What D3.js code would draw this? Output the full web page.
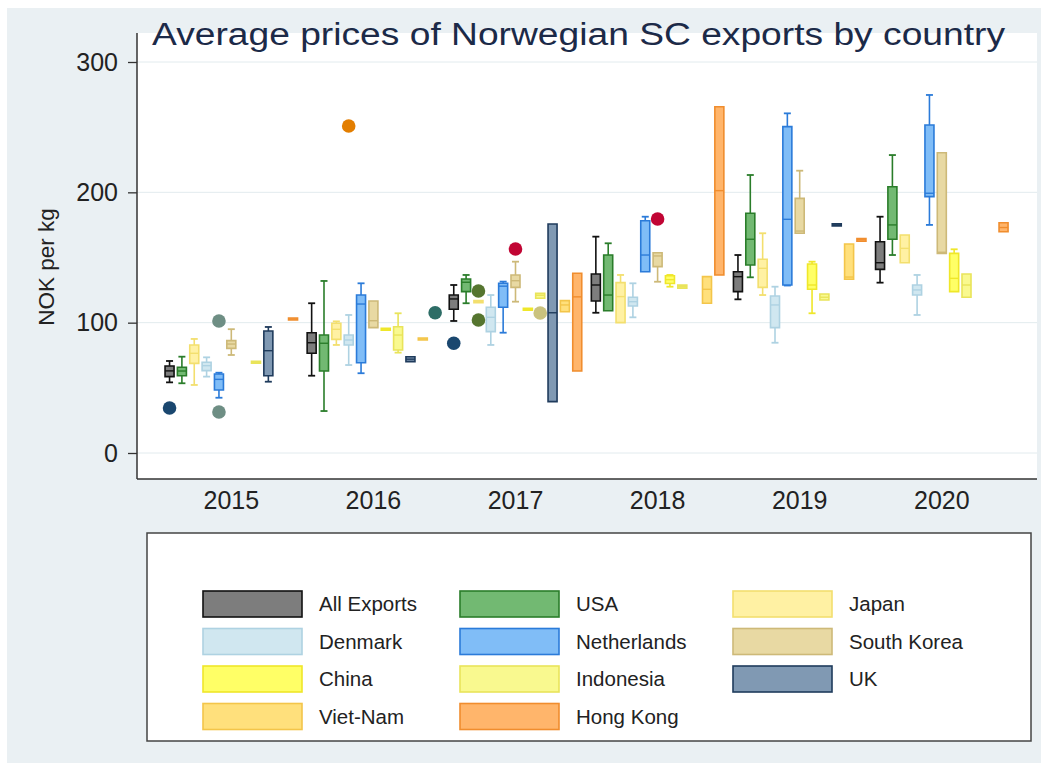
<!DOCTYPE html>
<meta charset="utf-8">
<style>
body { margin: 0; background: #fff; }
text { font-family: "Liberation Sans", Arial, sans-serif; fill: #222; }
.grid line { stroke: #e2ebee; stroke-width: 1; }
.axis path, .axis line { stroke: #333; }
</style>
<body>
<script src="https://cdn.jsdelivr.net/npm/d3@7"></script>
<script>

var years = [2015, 2016, 2017, 2018, 2019, 2020];
var countries = ["All Exports", "USA", "Japan", "Denmark", "Netherlands", "South Korea",
                 "China", "Indonesia", "UK", "Viet-Nam", "Hong Kong"];
var yTicks = [0, 100, 200, 300];

// [country, lower whisker, q1, median, q3, upper whisker]
var stats2015 = [
  ["All Exports", 54.2, 58.6, 63, 66.8, 70.6],
  ["USA", 53.5, 59.3, 62.9, 65.8, 73.9],
  ["Japan", 52.2, 68.8, 76.5, 82.9, 87.5],
  ["Denmark", 58.6, 63.2, 67, 69.6, 73.4],
  ["Netherlands", 42.4, 48.3, 56.5, 60.6, 61.6],
  ["South Korea", 75.2, 80.3, 83.6, 86.2, 95],
  ["Indonesia", 69.6, 69.6, 69.6, 69.6, 69.6],
  ["UK", 54.7, 59.3, 78.5, 93.6, 96.7],
  ["Hong Kong", 102.8, 102.8, 102.8, 102.8, 102.8]
];
var stats2016 = [
  ["All Exports", 59.3, 76.5, 84.6, 92.3, 114.9],
  ["USA", 32.2, 62.9, 84.2, 90.5, 132],
  ["Japan", 82.9, 87.2, 94.9, 99.5, 101],
  ["Denmark", 67.5, 82.9, 86.7, 90.5, 105.9],
  ["Netherlands", 61.2, 69.3, 114.3, 121.2, 130.2],
  ["South Korea", 96.2, 96.2, 101.5, 116.6, 116.6],
  ["China", 95, 95, 95, 95, 95],
  ["Indonesia", 77, 79, 90.5, 96.9, 107.2],
  ["UK", 70.1, 70.1, 72, 73.9, 73.9],
  ["Viet-Nam", 87.5, 87.5, 87.5, 87.5, 87.5]
];
var stats2017 = [
  ["All Exports", 101.3, 110.3, 118.2, 121.2, 128.9],
  ["USA", 114.9, 123.8, 131, 133.5, 136.6],
  ["Japan", 115.5, 115.5, 116.1, 116.8, 116.8],
  ["Denmark", 82.9, 93.1, 104.1, 111.8, 121.2],
  ["Netherlands", 92.3, 111.8, 128, 130.2, 131.5],
  ["South Korea", 116.1, 127.1, 132.2, 136.6, 146.8],
  ["China", 110.3, 110.3, 110.3, 110.3, 110.3],
  ["Indonesia", 118.7, 118.7, 121, 122.5, 122.5],
  ["UK", 39.4, 39.4, 107.6, 175.7, 175.7],
  ["Viet-Nam", 108.4, 108.4, 113.6, 116.9, 116.9],
  ["Hong Kong", 62.9, 62.9, 119.8, 137.9, 137.9]
];
var stats2018 = [
  ["All Exports", 107.6, 116.6, 128.9, 137.3, 166],
  ["USA", 109.2, 109.2, 121.2, 151.9, 160.9],
  ["Japan", 100, 100, 120, 130.7, 136.6],
  ["Denmark", 104.1, 112.8, 116.1, 119.5, 130.2],
  ["Netherlands", 139.1, 139.1, 151.9, 178.2, 181.3],
  ["South Korea", 131.4, 143, 151.2, 153.7, 153.7],
  ["China", 127.6, 130, 133, 136, 136.6],
  ["Indonesia", 126.5, 126.5, 127.6, 128.8, 128.8],
  ["Viet-Nam", 114.9, 114.9, 125.6, 135.3, 135.3],
  ["Hong Kong", 136.6, 136.6, 201.3, 265.7, 265.7]
];
var stats2019 = [
  ["All Exports", 117.9, 123.8, 135.3, 139.1, 151.9],
  ["USA", 134.8, 144.3, 164, 183.9, 213.3],
  ["Japan", 121.2, 127.1, 141.7, 148.6, 168.6],
  ["Denmark", 84.6, 96.2, 113.6, 120.5, 127.6],
  ["Netherlands", 128.5, 128.9, 179.3, 250.4, 260.6],
  ["South Korea", 168.6, 168.6, 170.3, 195.4, 216.6],
  ["China", 107.2, 125.6, 128.9, 145, 146.8],
  ["Indonesia", 117.4, 117.4, 119.5, 122, 122],
  ["UK", 175, 175, 175, 175, 175],
  ["Viet-Nam", 133.3, 133.3, 135, 160.4, 160.4],
  ["Hong Kong", 162.5, 162.5, 163.6, 164.5, 164.5]
];
var stats2020 = [
  ["All Exports", 130.7, 140.9, 146, 162.1, 181.3],
  ["USA", 151.9, 164, 175, 204.3, 228.6],
  ["Japan", 146, 146, 157, 167.3, 167.3],
  ["Denmark", 105.9, 121.2, 125.1, 128.9, 136.6],
  ["Netherlands", 175, 196.7, 199.3, 251.7, 274.7],
  ["South Korea", 153.2, 153.2, 154, 230.4, 230.4],
  ["China", 123.8, 123.8, 134, 153.2, 156.3],
  ["Indonesia", 119.5, 119.5, 128.9, 137.3, 137.3],
  ["Hong Kong", 169.8, 169.8, 173, 176.7, 176.7]
];

// [year, country, value]
var outliers = [
  [2015, "All Exports", 34.5],
  [2015, "Netherlands", 31.5],
  [2015, "Netherlands", 101.3],
  [2016, "Denmark", 250.9],
  [2016, "Hong Kong", 107.6],
  [2017, "All Exports", 84.2],
  [2017, "Japan", 124.3],
  [2017, "Japan", 102],
  [2017, "South Korea", 156.5],
  [2017, "Indonesia", 107.4],
  [2018, "South Korea", 179.5]
];

var statsByYear = [stats2015, stats2016, stats2017, stats2018, stats2019, stats2020];

var fill = d3.scaleOrdinal().domain(countries)
  .range(["#7d7d7d", "#72b972", "#fff1a3", "#d0e7f0", "#80bdf7", "#e8d9a3",
          "#ffff66", "#f9f98f", "#8099b3", "#ffe07c", "#ffb56b"]);
var stroke = d3.scaleOrdinal().domain(countries)
  .range(["#111111", "#2a7d2a", "#f3df6e", "#aed2e2", "#2b7bd9", "#cdb978",
          "#efe72a", "#e9e45a", "#1f3b5c", "#f3c54a", "#f08d2e"]);
// stata default marker palette, used for the outside values
var markerColor = d3.scaleOrdinal().domain(countries)
  .range(["#1a476f", "#90353b", "#55752f", "#e37e00", "#6e8e84", "#c10534",
          "#938dd2", "#cac27e", "#a0522d", "#7b92a8", "#2d6d66"]);

var width = 1052, height = 769;
var plotL = 137, plotR = 1037, plotT = 33, plotB = 479;

var svg = d3.select("body").append("svg")
    .attr("width", width)
    .attr("height", height);

svg.append("rect")
    .attr("x", 7).attr("y", 8)
    .attr("width", 1034).attr("height", 755)
    .attr("fill", "#eaf0f3");

svg.append("rect")
    .attr("x", plotL).attr("y", plotT)
    .attr("width", plotR - plotL).attr("height", plotB - plotT)
    .attr("fill", "#fff");

var y = d3.scaleLinear().domain([0, 300]).range([453, 62]);

var groupStep = 142.1, slot = 12.35;
var xYear = d3.scaleBand().domain(years)
    .range([231.3 - groupStep / 2, 231.3 + 5 * groupStep + groupStep / 2]);
var xCountry = d3.scaleBand().domain(countries)
    .range([0, slot * countries.length])
    .paddingInner(0.27).paddingOuter(0.135);
var inset = (groupStep - slot * countries.length) / 2;

function boxX(year, country) {
  return xYear(year) + inset + xCountry(country);
}

// grid
svg.append("g").attr("class", "grid")
  .selectAll("line").data(yTicks).enter().append("line")
    .attr("x1", plotL).attr("x2", plotR)
    .attr("y1", function(d) { return y(d); })
    .attr("y2", function(d) { return y(d); });

// axes
var yAxis = svg.append("g").attr("class", "axis")
    .attr("transform", "translate(" + plotL + ",0)")
    .call(d3.axisLeft(y).tickValues(yTicks).tickSize(9).tickPadding(10).tickSizeOuter(0));
yAxis.select(".domain").remove();
yAxis.selectAll("text").style("font-size", "25px").style("fill", "#222");
yAxis.selectAll("line").attr("stroke-width", 1.3);

svg.append("line")
    .attr("x1", plotL).attr("x2", plotL).attr("y1", plotT).attr("y2", plotB)
    .attr("stroke", "#333").attr("stroke-width", 1.5);
svg.append("line")
    .attr("x1", plotL).attr("x2", plotR).attr("y1", plotB).attr("y2", plotB)
    .attr("stroke", "#333").attr("stroke-width", 1.5);

var xAxis = svg.append("g").attr("class", "axis")
    .attr("transform", "translate(0," + plotB + ")")
    .call(d3.axisBottom(xYear).tickSize(0).tickPadding(12));
xAxis.select(".domain").remove();
xAxis.selectAll("text").style("font-size", "25px").style("fill", "#222");

svg.append("text")
    .attr("transform", "translate(54,267) rotate(-90)")
    .attr("text-anchor", "middle")
    .style("font-size", "22.5px")
    .text("NOK per kg");

// boxes
var bw = xCountry.bandwidth();
var capW = 7;
var boxes = [];
statsByYear.forEach(function(rows, i) {
  rows.forEach(function(r) {
    boxes.push({year: years[i], country: r[0], lo: r[1], q1: r[2], med: r[3], q3: r[4], hi: r[5]});
  });
});

var g = svg.append("g");
var box = g.selectAll("g.box").data(boxes).enter().append("g")
    .attr("class", "box")
    .attr("transform", function(d) { return "translate(" + boxX(d.year, d.country) + ",0)"; });

box.each(function(d) {
  var sel = d3.select(this);
  var c = stroke(d.country);
  var yTop = y(d.q3), yBot = y(d.q1);
  if (yBot - yTop < 2) { var mid = (yTop + yBot) / 2; yTop = mid - 1; yBot = mid + 1; }
  if (d.hi > d.q3) {
    sel.append("line").attr("x1", bw / 2).attr("x2", bw / 2)
      .attr("y1", y(d.hi)).attr("y2", yTop)
      .attr("stroke", c).attr("stroke-width", 1.6);
    sel.append("line").attr("x1", bw / 2 - capW / 2).attr("x2", bw / 2 + capW / 2)
      .attr("y1", y(d.hi)).attr("y2", y(d.hi))
      .attr("stroke", c).attr("stroke-width", 1.8);
  }
  if (d.lo < d.q1) {
    sel.append("line").attr("x1", bw / 2).attr("x2", bw / 2)
      .attr("y1", yBot).attr("y2", y(d.lo))
      .attr("stroke", c).attr("stroke-width", 1.6);
    sel.append("line").attr("x1", bw / 2 - capW / 2).attr("x2", bw / 2 + capW / 2)
      .attr("y1", y(d.lo)).attr("y2", y(d.lo))
      .attr("stroke", c).attr("stroke-width", 1.8);
  }
  sel.append("path")
    .attr("d", "M0," + yTop + "H" + bw + "V" + yBot + "H0Z")
    .attr("fill", fill(d.country))
    .attr("stroke", c).attr("stroke-width", 1.6);
  sel.append("line").attr("x1", 0).attr("x2", bw)
    .attr("y1", y(d.med)).attr("y2", y(d.med))
    .attr("stroke", c).attr("stroke-width", 1.4);
});

g.selectAll("circle.outlier").data(outliers).enter().append("circle")
    .attr("class", "outlier")
    .attr("cx", function(d) { return boxX(d[0], d[1]) + bw / 2; })
    .attr("cy", function(d) { return y(d[2]); })
    .attr("r", 6.8)
    .attr("fill", function(d) { return markerColor(d[1]); });

// title
svg.append("text")
    .attr("x", 152).attr("y", 45)
    .attr("textLength", 853).attr("lengthAdjust", "spacingAndGlyphs")
    .style("font-size", "31px")
    .style("fill", "#1c2a48")
    .text("Average prices of Norwegian SC exports by country");

// legend
svg.append("rect")
    .attr("x", 147).attr("y", 533)
    .attr("width", 884).attr("height", 208)
    .attr("fill", "#fff").attr("stroke", "#444").attr("stroke-width", 1.5);

var colX = [203, 460, 733], rowY = [604, 641.5, 679, 716.5];
var leg = svg.append("g").selectAll("g").data(countries).enter().append("g")
    .attr("transform", function(d, i) {
      return "translate(" + colX[i % 3] + "," + rowY[Math.floor(i / 3)] + ")";
    });
leg.append("rect")
    .attr("x", 0).attr("y", -13)
    .attr("width", 99).attr("height", 26)
    .attr("fill", function(d) { return fill(d); })
    .attr("stroke", function(d) { return stroke(d); })
    .attr("stroke-width", 1.6);
leg.append("text")
    .attr("x", 116).attr("y", 0).attr("dy", "0.35em")
    .style("font-size", "20.5px")
    .text(function(d) { return d; });

</script>
</body>
